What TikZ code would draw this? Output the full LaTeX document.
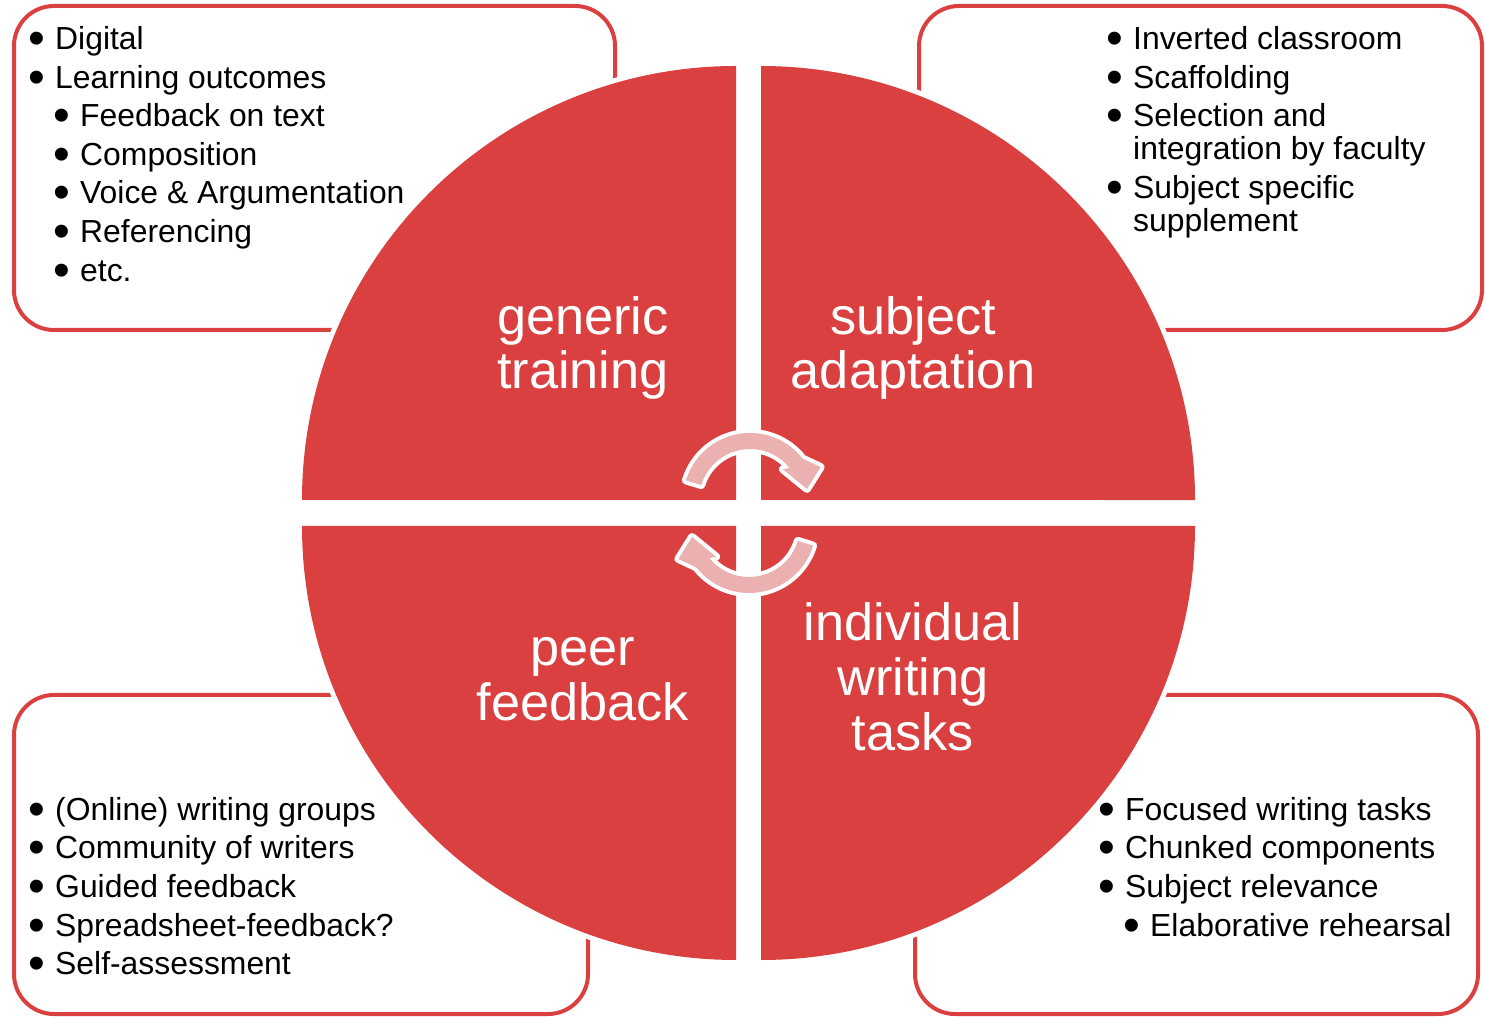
\documentclass[tikz,border=0pt]{standalone}
\usepackage{fontspec}
\usepackage{graphicx}
\setmainfont{Liberation Sans}
\definecolor{redc}{RGB}{219,64,64}
\definecolor{pinkc}{RGB}{235,177,177}
\newcommand{\bul}{\llap{\smash{\raisebox{-5bp}{\scalebox{1.5}{\textbullet}}}\hspace{9.5bp}}}
\newcommand{\cyclepath}{(163:67bp) arc[start angle=163, end angle=38, radius=67bp] -- (25:78bp) -- (11:58bp) -- (43:45bp) -- (39:51bp) arc[start angle=39, end angle=163, radius=51bp] -- cycle}
\tikzset{
  quarter/.style={fill=redc, preaction={draw=white, line width=10bp}},
  infobox/.style={draw=redc, line width=4bp, rounded corners=40bp},
  item/.style={anchor=base west, inner sep=0pt, font=\fontsize{32}{38}\selectfont},
  quadtext/.style={white, align=center, inner sep=0pt, font=\fontsize{52.5}{55}\selectfont},
  cyclearrow/.style={fill=pinkc, preaction={draw=white, line width=8bp, line join=round}}
}
\begin{document}
\begin{tikzpicture}[x=1bp,y=1bp]
\useasboundingbox (0,0) rectangle (1485,1016);
%% boxes
\draw[infobox] (14,1010) rectangle (615,686);
\draw[infobox] (919,1010) rectangle (1482,686);
\draw[infobox] (14,321) rectangle (588,2);
\draw[infobox] (915,321) rectangle (1478,2);
%% quarters of the circle
\path[quarter] (736,516) -- (302,516) arc[start angle=180, end angle=90, radius=434bp] -- cycle;
\path[quarter] (761,516) -- (761,950) arc[start angle=90, end angle=0, radius=434bp] -- cycle;
\path[quarter] (736,490) -- (736,56) arc[start angle=270, end angle=180, radius=434bp] -- cycle;
\path[quarter] (761,490) -- (1195,490) arc[start angle=0, end angle=-90, radius=434bp] -- cycle;
\node[quadtext] (generic) at (583,668) {generic\\training};
\node[quadtext] (subject) at (913,668) {subject\\adaptation};
\node[quadtext] (peer) at (583,337) {peer\\feedback};
\node[quadtext] (individual) at (913,339) {individual\\writing\\tasks};
%% arrows in the middle
\begin{scope}[shift={(750,516)}]
\path[cyclearrow] \cyclepath;
\end{scope}
\begin{scope}[shift={(749,490)}, rotate=180]
\path[cyclearrow] \cyclepath;
\end{scope}
%% top left
\node[item] (tl1) at (55,966) {\bul Digital};
\node[item] (tl2) at (55,927.5) {\bul Learning outcomes};
\node[item] (tl3) at (80,889) {\bul Feedback on text};
\node[item] (tl4) at (80,850) {\bul Composition};
\node[item] (tl5) at (80,812) {\bul Voice \& Argumentation};
\node[item] (tl6) at (80,773) {\bul Referencing};
\node[item] (tl7) at (80,734) {\bul etc.};
%% top right
\node[item] (tr1) at (1133,966) {\bul Inverted classroom};
\node[item] (tr2) at (1133,927.5) {\bul Scaffolding};
\node[item] (tr3) at (1133,889) {\bul Selection and};
\node[item] (tr4) at (1133,856) {integration by faculty};
\node[item] (tr5) at (1133,817) {\bul Subject specific};
\node[item] (tr6) at (1133,784) {supplement};
%% bottom left
\node[item] (bl1) at (55,196) {\bul (Online) writing groups};
\node[item] (bl2) at (55,157.5) {\bul Community of writers};
\node[item] (bl3) at (55,119) {\bul Guided feedback};
\node[item] (bl4) at (55,80) {\bul Spreadsheet-feedback?};
\node[item] (bl5) at (55,41.5) {\bul Self-assessment};
%% bottom right
\node[item] (br1) at (1125,196) {\bul Focused writing tasks};
\node[item] (br2) at (1125,157.5) {\bul Chunked components};
\node[item] (br3) at (1125,119) {\bul Subject relevance};
\node[item] (br4) at (1150,80) {\bul Elaborative rehearsal};
\end{tikzpicture}
\end{document}
